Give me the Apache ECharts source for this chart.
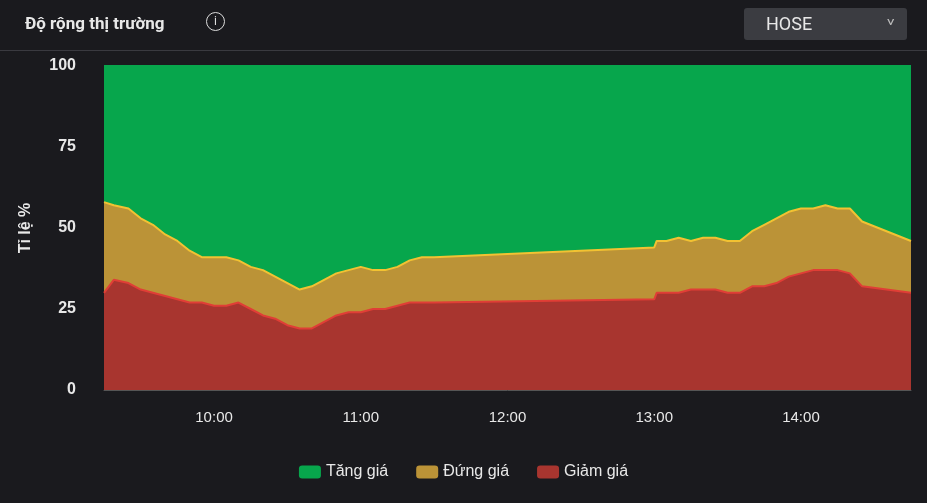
<!DOCTYPE html>
<html><head><meta charset="utf-8">
<script src="https://cdn.jsdelivr.net/npm/echarts@6/dist/echarts.min.js"></script>
<style>
html,body{margin:0;padding:0;background:#1a1a1e;width:927px;height:503px;overflow:hidden;font-family:Roboto,"Noto Sans",sans-serif}
#hdr{position:absolute;left:0;top:0;width:927px;height:51px;border-bottom:1px solid #3a3a40;box-sizing:border-box}
#ttl{position:absolute;left:25px;top:13px;color:#e8e8e8;font-size:17px;font-weight:bold}
#info{position:absolute;left:206px;top:12px;width:19px;height:19px;border:1.5px solid #ddd;border-radius:50%;color:#ddd;font-size:12px;text-align:center;line-height:17px;box-sizing:border-box}
#sel{position:absolute;left:744px;top:8px;width:163px;height:32px;background:#3b3c41;border-radius:3px;color:#e8e8e8;font-size:18px}
#sel span{position:absolute;left:22px;top:5px}
#sel i{position:absolute;right:14px;top:7px;font-style:normal;font-size:11px;color:#bbb;transform:scaleX(1.4)}
#c{position:absolute;left:0;top:0;width:927px;height:503px}
</style></head><body>
<div id="c"></div>
<div id="hdr"><div id="ttl">Độ rộng thị trường</div><div id="info">i</div><div id="sel"><span>HOSE</span><i>v</i></div></div>
<script>
const times=["09:15","09:19","09:25","09:30","09:35","09:40","09:45","09:50","09:55","10:00","10:05","10:10","10:15","10:20","10:25","10:30","10:35","10:40","10:45","10:50","10:55","11:00","11:05","11:10","11:15","11:20","11:25","11:30","13:00","13:01","13:05","13:10","13:15","13:20","13:25","13:30","13:35","13:40","13:45","13:50","13:55","14:00","14:05","14:10","14:15","14:20","14:25","14:45"];
const giam=[30,34,33,31,30,29,28,27,27,26,26,27,25,23,22,20,19,19,21,23,24,24,25,25,26,27,27,27,28,30,30,30,31,31,31,30,30,32,32,33,35,36,37,37,37,36,32,30];
const dung=[28,23,23,22,21,19,18,16,14,15,15,13,13,14,13,13,12,13,13,13,13,14,12,12,12,13,14,14,16,16,16,17,15,16,16,16,16,17,19,20,20,20,19,20,19,20,20,16];
const tang=[42,43,44,47,49,52,54,57,59,59,59,60,62,63,65,67,69,68,66,64,63,62,63,63,62,60,59,59,56,54,54,53,54,53,53,54,54,51,49,47,45,44,44,43,44,44,48,54];
const yTicks=[0,25,50,75,100];
const xLabels=["10:00","11:00","12:00","13:00","14:00"];
const toMin=t=>{const p=t.split(":");return +p[0]*60+ +p[1];};
// cumulative tops for drawing the stacked bands
const topRed=giam.map((v,i)=>[toMin(times[i]),v]);
const topYel=giam.map((v,i)=>[toMin(times[i]),v+dung[i]]);
const topGrn=giam.map((v,i)=>[toMin(times[i]),v+dung[i]+tang[i]]);
const chart=echarts.init(document.getElementById('c'));
const mk=(name,data,fill,line,z)=>({name,type:'line',data,symbol:'none',z,
  lineStyle:{color:line,width:2},itemStyle:{color:fill},areaStyle:{color:fill,opacity:1,origin:'start'},emphasis:{disabled:true}});
chart.setOption({
  backgroundColor:'transparent',animation:false,
  grid:{left:104,right:16,top:66,bottom:113},
  legend:{top:459,left:'center',itemGap:28,itemWidth:22,itemHeight:13,icon:'roundRect',textStyle:{color:'#e8e8e8',fontSize:16},
    data:['Tăng giá','Đứng giá','Giảm giá']},
  xAxis:{type:'value',min:555,max:885,interval:15,
    axisLine:{show:true,lineStyle:{color:'#555'}},axisTick:{show:false},splitLine:{show:false},
    axisLabel:{color:'#e8e8e8',fontSize:15,margin:20,formatter:v=>{const s=String(Math.floor(v/60)).padStart(2,'0')+':'+String(v%60).padStart(2,'0');return xLabels.includes(s)?s:'';}}},
  yAxis:{type:'value',min:yTicks[0],max:yTicks[yTicks.length-1],interval:25,name:'Tỉ lệ %',nameLocation:'middle',nameGap:70,
    nameTextStyle:{color:'#e8e8e8',fontSize:16,fontWeight:'bold'},
    axisLine:{show:false},axisTick:{show:false},splitLine:{show:false},
    axisLabel:{color:'#e8e8e8',fontSize:16,fontWeight:'bold',margin:28}},
  series:[mk('Tăng giá',topGrn,'#07a64c','#07a64c',1),mk('Đứng giá',topYel,'#bb9337','#f2c232',2),mk('Giảm giá',topRed,'#a8352f','#e03e36',3)]
});
</script></body></html>
